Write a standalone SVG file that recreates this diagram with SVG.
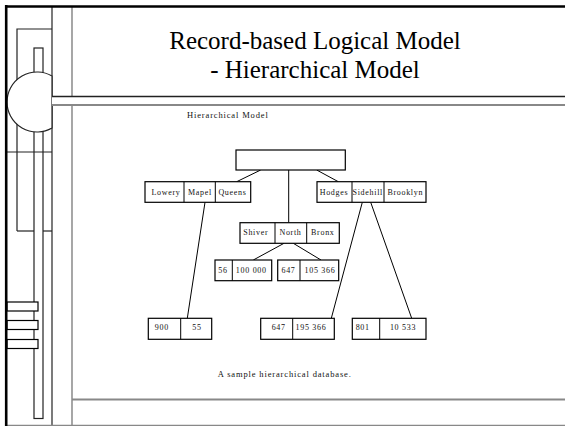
<svg xmlns="http://www.w3.org/2000/svg" width="565" height="426" viewBox="0 0 565 426">
<style>
.frame{fill:none;stroke:#222;stroke-width:1.2}
.gray{fill:none;stroke:#777;stroke-width:1.3}
.box{fill:#fff;stroke:#000;stroke-width:1.2}
.conn{stroke:#000;stroke-width:1;fill:none}
.t{font-family:"Liberation Serif","Times New Roman",serif;font-size:8px;letter-spacing:0.7px;fill:#111;text-anchor:middle}
.title{font-family:"Liberation Serif","Times New Roman",serif;font-size:25px;fill:#000;text-anchor:middle}
.lbl{font-family:"Liberation Serif","Times New Roman",serif;font-size:8.5px;letter-spacing:0.85px;fill:#111}
</style>
<rect width="565" height="426" fill="#fff"/>
<g id="decor">
  <line x1="72" y1="6" x2="72" y2="426" class="gray"/>
  <line x1="52" y1="6" x2="52" y2="426" class="frame"/>
  <polyline points="17,231 17,29 52,29" class="frame"/>
  <line x1="7" y1="152" x2="52" y2="152" class="frame"/>
  <line x1="17" y1="231" x2="34" y2="231" class="frame"/>
  <line x1="43" y1="231" x2="52" y2="231" class="frame"/>
  <rect x="34" y="48" width="9" height="370.5" class="frame"/>
  <path d="M52,76 A30,30 0 1 0 52,128 Z" fill="#fff" stroke="#222" stroke-width="1.2"/>
  <rect x="52" y="96.5" width="513" height="8.5" fill="#fff" stroke="none"/>
  <line x1="52" y1="96.5" x2="565" y2="96.5" stroke="#222" stroke-width="1.3"/>
  <line x1="52" y1="105" x2="565" y2="105" stroke="#888" stroke-width="2"/>
  <rect x="7" y="302" width="31" height="9" class="box"/>
  <rect x="7" y="320.5" width="31" height="9" class="box"/>
  <rect x="7" y="339.5" width="31" height="9" class="box"/>
  <line x1="72" y1="399.5" x2="565" y2="399.5" stroke="#888" stroke-width="1.8"/>
  <line x1="7" y1="425.3" x2="565" y2="425.3" stroke="#888" stroke-width="1.3"/>
  <line x1="5" y1="6.5" x2="565" y2="6.5" stroke="#000" stroke-width="2.6"/>
  <line x1="6.2" y1="5" x2="6.2" y2="426" stroke="#000" stroke-width="2.6"/>
</g>
<g id="title">
  <text x="315" y="49" class="title">Record-based Logical Model</text>
  <text x="315" y="78" class="title">- Hierarchical Model</text>
  <text x="187" y="117.5" class="lbl">Hierarchical Model</text>
</g>
<g id="connectors">
  <line x1="260.7" y1="170" x2="236.7" y2="181.7" class="conn"/>
  <line x1="288.7" y1="170" x2="288.7" y2="222.7" class="conn"/>
  <line x1="316.7" y1="170" x2="338.3" y2="181.7" class="conn"/>
  <line x1="284" y1="243.3" x2="253.3" y2="260" class="conn"/>
  <line x1="293.3" y1="243.3" x2="321" y2="260" class="conn"/>
  <line x1="205" y1="202.3" x2="187.3" y2="318.3" class="conn"/>
  <line x1="362.3" y1="202.3" x2="331.3" y2="318.3" class="conn"/>
  <line x1="370.7" y1="202.3" x2="411.7" y2="318.3" class="conn"/>
</g>
<g id="root">
  <rect x="236" y="150" width="109.3" height="20" class="box"/>
</g>
<g id="node-left">
  <rect x="145" y="181.7" width="105.7" height="20.6" class="box"/>
  <line x1="184" y1="181.7" x2="184" y2="202.3" class="conn"/>
  <line x1="215.3" y1="181.7" x2="215.3" y2="202.3" class="conn"/>
  <text x="166" y="194.5" class="t">Lowery</text>
  <text x="200" y="194.5" class="t">Mapel</text>
  <text x="232.5" y="194.5" class="t">Queens</text>
</g>
<g id="node-right">
  <rect x="317" y="181.7" width="109" height="20.6" class="box"/>
  <line x1="352" y1="181.7" x2="352" y2="202.3" class="conn"/>
  <line x1="384" y1="181.7" x2="384" y2="202.3" class="conn"/>
  <text x="334" y="194.5" class="t">Hodges</text>
  <text x="367.8" y="194.5" class="t">Sidehill</text>
  <text x="405.3" y="194.5" class="t">Brooklyn</text>
</g>
<g id="node-mid">
  <rect x="240" y="222.7" width="99.3" height="20.6" class="box"/>
  <line x1="275" y1="222.7" x2="275" y2="243.3" class="conn"/>
  <line x1="306.7" y1="222.7" x2="306.7" y2="243.3" class="conn"/>
  <text x="255.8" y="235" class="t">Shiver</text>
  <text x="290.5" y="235" class="t">North</text>
  <text x="322.8" y="235" class="t">Bronx</text>
</g>
<g id="rec-56">
  <rect x="215" y="260" width="56.7" height="20.7" class="box"/>
  <line x1="232.3" y1="260" x2="232.3" y2="280.7" class="conn"/>
  <text x="223" y="272.5" class="t">56</text>
  <text x="251.3" y="272.5" class="t">100 000</text>
</g>
<g id="rec-647a">
  <rect x="277.7" y="260" width="61" height="20.7" class="box"/>
  <line x1="300" y1="260" x2="300" y2="280.7" class="conn"/>
  <text x="288.5" y="272.5" class="t">647</text>
  <text x="320" y="272.5" class="t">105 366</text>
</g>
<g id="rec-900">
  <rect x="148.3" y="318.3" width="63.4" height="21" class="box"/>
  <line x1="180.7" y1="318.3" x2="180.7" y2="339.3" class="conn"/>
  <text x="161.8" y="330" class="t">900</text>
  <text x="197" y="330" class="t">55</text>
</g>
<g id="rec-647b">
  <rect x="260.7" y="318.3" width="73.6" height="21" class="box"/>
  <line x1="292.7" y1="318.3" x2="292.7" y2="339.3" class="conn"/>
  <text x="278.7" y="330" class="t">647</text>
  <text x="311" y="330" class="t">195 366</text>
</g>
<g id="rec-801">
  <rect x="352.3" y="318.3" width="73.7" height="21" class="box"/>
  <line x1="379.7" y1="318.3" x2="379.7" y2="339.3" class="conn"/>
  <text x="362.7" y="330" class="t">801</text>
  <text x="403" y="330" class="t">10 533</text>
</g>
<g id="caption">
  <text x="284.7" y="376.7" class="lbl" text-anchor="middle">A sample hierarchical database.</text>
</g>
</svg>
